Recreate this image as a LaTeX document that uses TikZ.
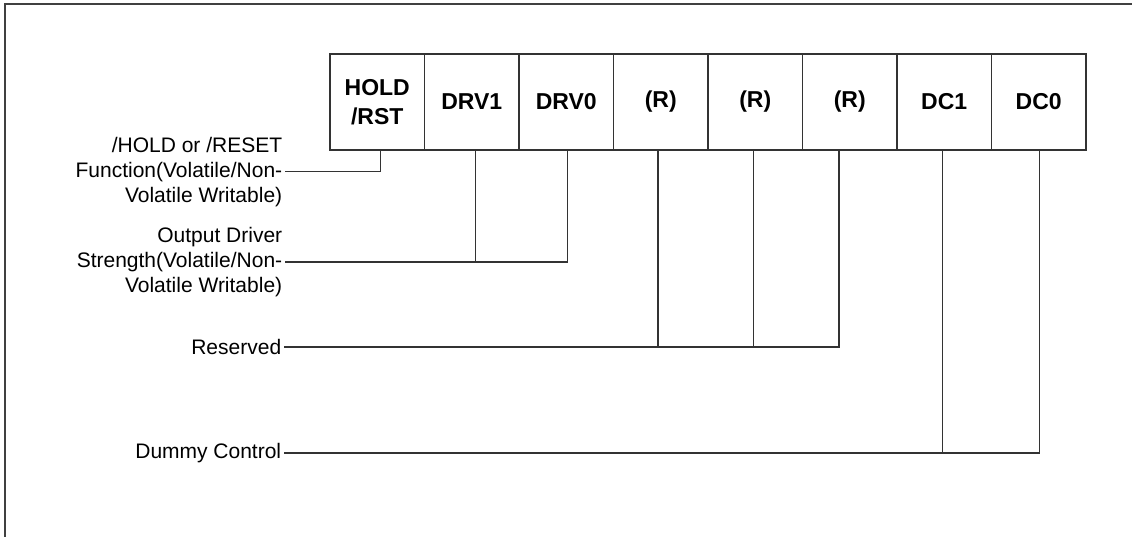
\documentclass[tikz,border=0pt]{standalone}
\usepackage{fontspec}
\setmainfont{Liberation Sans}
\usetikzlibrary{positioning,calc}

\begin{document}
\begin{tikzpicture}[x=0.5pt, y=-0.5pt,
  bitbox/.style={draw=black!80, line width=0.6pt, minimum width=47.25pt, minimum height=48pt, inner sep=0pt, outer sep=0pt, align=center, font=\fontsize{11.5}{14.5}\selectfont\bfseries},
  bitlabel/.style={anchor=east, align=right, inner sep=1.2pt, font=\fontsize{10.5}{12.5}\selectfont},
  leg/.style={line width=0.6pt, black!80}]
\useasboundingbox (0,0) rectangle (1132,537);
\draw[line width=0.8pt, black!75] (1132,4) -- (5,4) -- (5,537);

% register bits
\node[bitbox, anchor=north west] (b1) at (330,54) {HOLD\\/RST};
\node[bitbox, right=0pt of b1] (b2) {DRV1};
\node[bitbox, right=0pt of b2] (b3) {DRV0};
\node[bitbox, right=0pt of b3] (b4) {(R)};
\node[bitbox, right=0pt of b4] (b5) {(R)};
\node[bitbox, right=0pt of b5] (b6) {(R)};
\node[bitbox, right=0pt of b6] (b7) {DC1};
\node[bitbox, right=0pt of b7] (b8) {DC0};

% descriptions
\node[bitlabel] (l1) at (285,171.7) {/HOLD or /RESET\\Function(Volatile/Non-\\Volatile Writable)};
\node[bitlabel] (l2) at (285,262) {Output Driver\\Strength(Volatile/Non-\\Volatile Writable)};
\node[bitlabel] (l3) at (284,347) {Reserved};
\node[bitlabel] (l4) at (284,453) {Dummy Control};

\coordinate (d1) at ($(b1.south)+(3.5,0)$);
\coordinate (d2) at ($(b2.south)+(4,0)$);
\coordinate (d3) at ($(b3.south)+(1.5,0)$);
\coordinate (d4) at ($(b4.south)+(-2.75,0)$);
\coordinate (d5) at ($(b5.south)+(-2,0)$);
\coordinate (d6) at ($(b6.south)+(-10.75,0)$);
\coordinate (d7) at ($(b7.south)+(-2,0)$);
\coordinate (d8) at ($(b8.south)+(1,0)$);

\draw[leg] (l1.east) -| (d1);
\draw[leg] (l2.east) -| (d3);
\draw[leg] (d2) -- (d2 |- l2.east);
\draw[leg] (l3.east) -| (d6);
\draw[leg] (d4) -- (d4 |- l3.east);
\draw[leg] (d5) -- (d5 |- l3.east);
\draw[leg] (l4.east) -| (d8);
\draw[leg] (d7) -- (d7 |- l4.east);
\end{tikzpicture}
\end{document}
